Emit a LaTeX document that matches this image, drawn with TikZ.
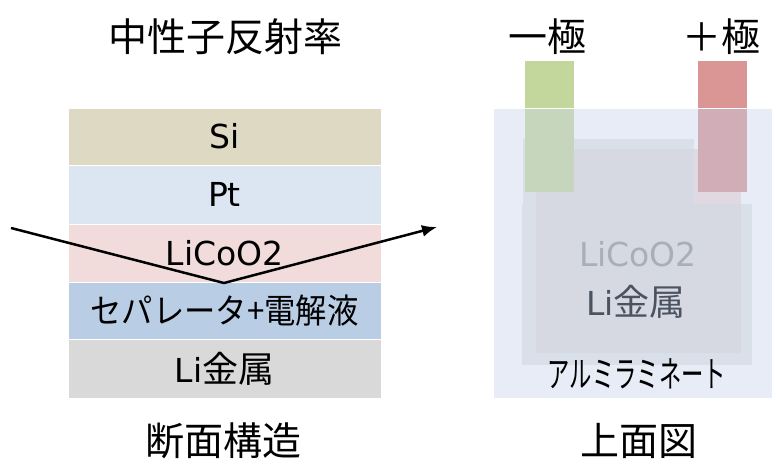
\documentclass[tikz,border=0pt]{standalone}
\usepackage{fontspec}
\setmainfont{DejaVu Sans}
\newfontfamily\jp{Noto Sans CJK JP}
\usetikzlibrary{arrows.meta}
\definecolor{siC}{HTML}{DDD9C3}
\definecolor{ptC}{HTML}{DCE6F2}
\definecolor{lcoC}{HTML}{F2DCDB}
\definecolor{sepC}{HTML}{B9CDE5}
\definecolor{liC}{HTML}{D9D9D9}
\definecolor{lamC}{HTML}{E7ECF7}
\definecolor{elC}{HTML}{DAE0EA}
\definecolor{limC}{HTML}{D6D9E1}
\definecolor{pinkC}{HTML}{E0D9E1}
\definecolor{grnA}{HTML}{C3D69B}
\definecolor{grnB}{HTML}{C5D6BC}
\definecolor{redA}{HTML}{D99694}
\definecolor{redB}{HTML}{D1AEB7}
\definecolor{txtGray}{HTML}{A9AFB6}
\definecolor{txtDark}{HTML}{4B5361}
\tikzset{
  layer/.style={draw=white, line width=0.8pt, minimum width=313pt, inner sep=0pt, outer sep=0pt, text=black, font=\fontsize{33}{36}\selectfont},
  title/.style={font=\jp\fontsize{39}{43}\selectfont, text=black, inner sep=0pt},
  region/.style={draw=none, inner sep=0pt, outer sep=0pt},
}
\begin{document}
\begin{tikzpicture}[x=1pt,y=-1pt]
\useasboundingbox (0,0) rectangle (776,463);
% titles
\node[title] (t1) at (225,37) {中性子反射率};
\node[title] (t2) at (223,441) {断面構造};
\node[title] (t3) at (639,441) {上面図};
\node[title] (t4) at (547,37) {一極};
\node[title] (t5) at (721,37) {＋極};
% cross-section layers
\node[layer, fill=siC, minimum height=57pt] (si) at (224.5,136.5) {Si};
\node[layer, fill=ptC, minimum height=59pt] (pt) at (224.5,194.5) {Pt};
\node[layer, fill=lcoC, minimum height=58pt] (lco) at (224.5,253) {LiCoO2};
\node[layer, fill=sepC, minimum height=57pt] (sep) at (224.5,310.5) {\jp\fontsize{34}{36}\selectfont \scalebox{0.92}[1]{セパレータ+電解液}};
\node[layer, fill=liC, minimum height=59pt] (li) at (224.5,368.5) {Li{\jp\fontsize{36}{38}\selectfont 金属}};
% neutron path
\coordinate (nin) at (11,228);
\coordinate (nv) at (224,283);
\coordinate (nout) at (437,227);
\draw[line width=2.5pt, line join=miter, -{Latex[length=15pt,width=12pt]}] (nin) -- (nv) -- (nout);
% top view
\fill[lamC] (494,108) rectangle (772,398);
\draw[white, line width=0.8pt] (494,108) -- (772,108);
\fill[elC] (523,139) rectangle (694,365);
\fill[elC] (522,204) rectangle (752,365);
\fill[pinkC] (694,149) rectangle (741,204);
\fill[limC] (536,149) rectangle (694,353);
\fill[limC] (694,204) rectangle (741,353);
% tabs
\fill[grnA] (525,61) rectangle (574,108);
\fill[grnB] (525,108) rectangle (574,192);
\fill[redA] (698,61) rectangle (747,108);
\fill[redB] (698,108) rectangle (747,192);
\draw[white, line width=0.8pt] (525,108) -- (574,108) (698,108) -- (747,108);
\node[region, text=txtGray, font=\fontsize{33}{36}\selectfont] (tlco) at (638,254) {LiCoO2};
\node[region, text=txtDark, font=\fontsize{33}{36}\selectfont] (tli) at (636,302) {Li{\jp\fontsize{36}{38}\selectfont 金属}};
\node[region, text=black, font=\jp\fontsize{36}{38}\selectfont] (tal) at (637,374) {\scalebox{0.62}[1]{アルミラミネート}};
\end{tikzpicture}
\end{document}
